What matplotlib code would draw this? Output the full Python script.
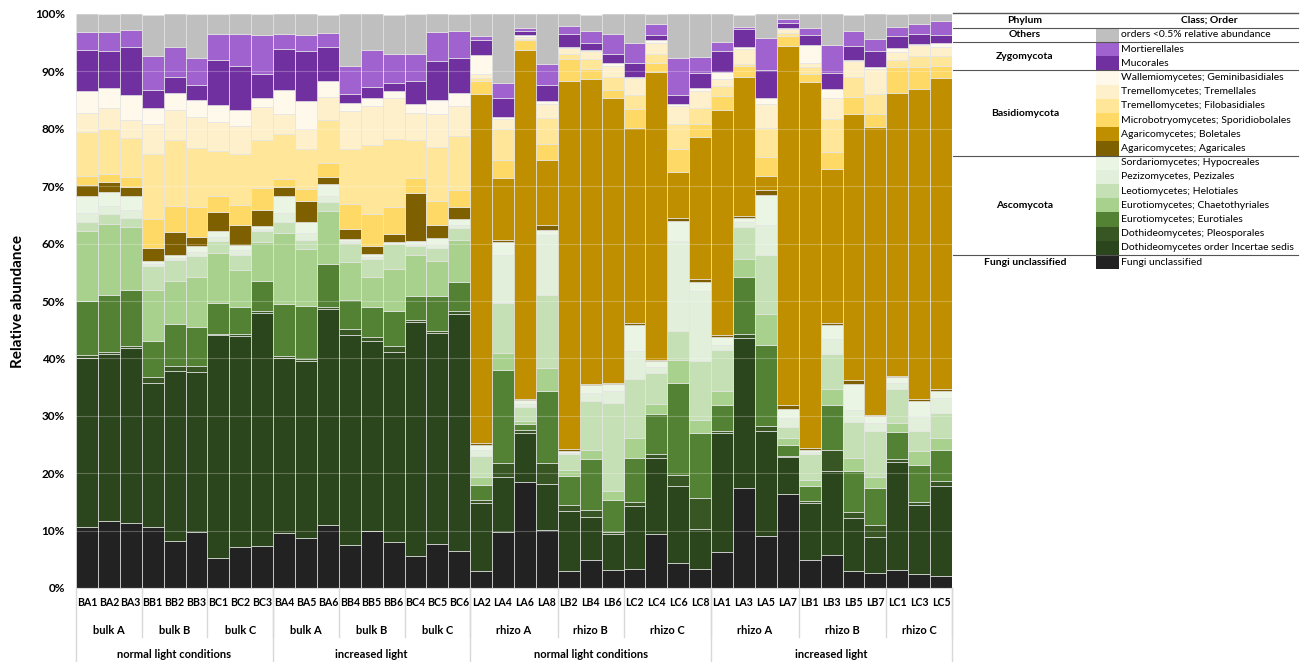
import matplotlib
matplotlib.use("Agg")
import matplotlib.pyplot as plt
import numpy as np
from matplotlib.lines import Line2D

plt.rcParams['font.family'] = ['Lato', 'DejaVu Sans']

# образцы (40 столбцов)
samples = ["BA1", "BA2", "BA3", "BB1", "BB2", "BB3", "BC1", "BC2", "BC3",
           "BA4", "BA5", "BA6", "BB4", "BB5", "BB6", "BC4", "BC5", "BC6",
           "LA2", "LA4", "LA6", "LA8", "LB2", "LB4", "LB6", "LC2", "LC4", "LC6", "LC8",
           "LA1", "LA3", "LA5", "LA7", "LB1", "LB3", "LB5", "LB7", "LC1", "LC3", "LC5"]
groups = ["bulk A", "bulk B", "bulk C", "bulk A", "bulk B", "bulk C",
          "rhizo A", "rhizo B", "rhizo C", "rhizo A", "rhizo B", "rhizo C"]
group_sizes = [3, 3, 3, 3, 3, 3, 4, 3, 4, 4, 4, 3]
conditions = ["normal light conditions", "increased light",
              "normal light conditions", "increased light"]
condition_sizes = [9, 9, 11, 11]

# относительная численность, % (снизу вверх)
unclassified = [10.7, 11.6, 11.3, 10.7, 8.2, 9.8, 5.2, 7.2, 7.4,
                9.5, 8.7, 11.0, 7.5, 9.9, 8.1, 5.6, 7.6, 6.5,
                3.0, 9.7, 18.4, 10.1, 2.9, 4.9, 3.1, 3.3, 9.4, 4.3, 3.3,
                6.2, 17.5, 9.0, 16.3, 4.9, 5.8, 3.0, 2.7, 3.1, 2.4, 2.1]
incertae = [29.4, 29.1, 30.5, 25.1, 29.6, 27.9, 38.8, 36.7, 40.5,
            30.5, 30.9, 37.6, 36.6, 33.2, 33.1, 40.7, 36.8, 41.3,
            11.8, 9.6, 8.6, 8.0, 10.6, 7.5, 6.3, 10.9, 13.2, 13.5, 7.0,
            20.8, 26.1, 18.3, 6.5, 9.9, 14.5, 9.2, 6.1, 18.9, 12.0, 15.6]
pleosporales = [0.5, 0.4, 0.3, 1.0, 0.9, 0.9, 0.3, 0.3, 0.4,
                0.4, 0.3, 0.3, 1.0, 0.7, 1.0, 0.4, 0.4, 0.4,
                0.6, 2.4, 0.6, 3.6, 0.9, 1.2, 0.4, 0.8, 0.7, 1.9, 5.4,
                0.3, 0.6, 0.9, 0.2, 0.4, 3.8, 1.0, 2.2, 0.4, 0.6, 1.0]
eurotiales = [9.4, 10.0, 9.8, 6.3, 7.3, 6.9, 5.4, 4.8, 5.2,
              9.1, 9.3, 7.6, 5.0, 5.1, 6.0, 4.2, 6.0, 5.1,
              2.6, 16.2, 0.9, 12.7, 5.1, 8.9, 5.5, 7.7, 7.1, 16.1, 11.3,
              4.5, 9.9, 14.2, 2.0, 2.5, 7.7, 7.1, 6.4, 4.8, 6.5, 5.4]
chaetothyriales = [12.2, 12.4, 11.0, 8.8, 7.4, 8.6, 8.6, 6.4, 6.7,
                   12.4, 9.8, 9.1, 6.7, 5.3, 7.3, 7.1, 6.2, 7.4,
                   1.3, 3.1, 0.6, 4.0, 1.0, 1.6, 1.6, 3.5, 1.7, 4.0, 2.3,
                   2.6, 3.2, 5.4, 1.2, 1.2, 2.9, 2.3, 1.9, 1.5, 2.4, 2.0]
helotiales = [1.6, 1.7, 1.6, 4.2, 3.8, 3.8, 2.2, 2.7, 2.0,
              1.9, 1.7, 1.7, 3.3, 3.2, 4.5, 1.6, 2.3, 2.0,
              3.7, 8.7, 2.5, 12.7, 2.8, 8.4, 15.3, 10.2, 5.4, 5.0, 10.3,
              7.1, 5.6, 10.2, 1.9, 4.5, 6.0, 6.4, 8.1, 6.0, 3.4, 4.4]
pezizales = [1.5, 1.3, 1.3, 0.4, 0.3, 0.6, 0.7, 0.7, 0.4,
             1.5, 1.2, 1.0, 0.3, 0.3, 0.0, 0.4, 0.7, 0.6,
             1.0, 8.3, 0.5, 10.4, 0.3, 1.5, 2.1, 4.9, 1.0, 15.7, 12.1,
             0.9, 0.9, 5.3, 1.5, 0.3, 2.6, 2.0, 1.3, 1.0, 2.6, 2.6]
hypocreales = [3.0, 2.5, 2.5, 0.5, 0.5, 1.0, 1.0, 0.9, 0.5,
               3.0, 1.8, 2.0, 0.4, 0.5, 0.2, 0.5, 1.0, 0.9,
               1.0, 2.2, 0.7, 0.9, 0.3, 1.3, 1.2, 4.5, 1.0, 3.5, 1.6,
               1.3, 0.7, 5.1, 1.5, 0.3, 2.6, 4.6, 1.3, 1.0, 2.7, 1.2]
agaricales = [1.9, 1.7, 1.6, 2.3, 4.0, 1.7, 3.3, 3.6, 2.7,
              1.5, 3.8, 1.3, 1.7, 1.3, 1.4, 8.4, 2.3, 2.2,
              0.3, 0.4, 0.2, 0.9, 0.3, 0.3, 0.3, 0.3, 0.2, 0.4, 0.5,
              0.3, 0.3, 0.9, 0.7, 0.4, 0.3, 0.7, 0.2, 0.3, 0.3, 0.3]
boletales = [0, 0, 0, 0, 0, 0, 0, 0, 0,
             0, 0, 0, 0, 0, 0, 0, 0, 0,
             60.8, 10.9, 60.8, 11.2, 64.2, 53.0, 49.5, 34.1, 50.2, 8.0, 24.7,
             39.2, 24.2, 2.4, 62.6, 63.8, 26.8, 46.3, 50.2, 49.2, 54.0, 54.3]
sporidiobolales = [1.6, 1.5, 1.7, 5.0, 4.6, 5.1, 2.8, 3.4, 3.9,
                   1.5, 2.0, 2.4, 4.4, 5.7, 4.8, 2.6, 4.1, 3.0,
                   2.2, 3.1, 1.6, 2.9, 3.8, 1.8, 1.5, 3.2, 1.5, 4.0, 2.4,
                   2.6, 2.0, 3.4, 1.7, 1.3, 2.9, 2.9, 2.2, 4.5, 3.8, 2.0]
filobasidiales = [7.6, 7.8, 6.8, 11.3, 11.4, 10.3, 7.9, 8.9, 8.3,
                  7.8, 7.0, 7.6, 9.5, 11.9, 11.9, 6.5, 9.4, 9.4,
                  0.6, 5.3, 0.3, 4.4, 0.9, 1.8, 2.2, 2.5, 1.6, 4.4, 2.7,
                  1.6, 0.3, 5.1, 0.6, 1.3, 5.8, 3.5, 3.5, 1.3, 1.9, 1.7]
tremellales = [3.3, 3.6, 3.2, 5.2, 5.2, 5.5, 4.9, 4.9, 5.8,
               3.5, 3.4, 3.9, 6.7, 6.8, 7.1, 4.8, 5.8, 5.1,
               0.6, 1.8, 0.3, 2.5, 0.9, 1.4, 1.9, 2.9, 2.0, 3.2, 2.9,
               1.2, 2.6, 4.2, 0.6, 0.7, 3.6, 2.8, 4.4, 1.3, 2.0, 1.7]
geminibasidiales = [3.8, 3.5, 4.3, 2.9, 3.0, 2.9, 3.1, 2.8, 1.5,
                    4.2, 4.9, 2.9, 1.4, 1.5, 1.2, 1.6, 2.5, 2.3,
                    3.4, 0.3, 0.3, 0.5, 0.3, 0.2, 0.6, 0.3, 0.4, 0.3, 0.6,
                    1.3, 0.3, 1.0, 0.3, 3.1, 1.7, 0.1, 0.3, 0.7, 0.2, 0.7]
mucorales = [7.3, 6.5, 8.3, 3.0, 2.8, 2.6, 7.7, 7.7, 4.2,
             7.1, 8.8, 5.9, 1.5, 1.9, 1.4, 4.0, 6.7, 6.1,
             2.6, 3.3, 0.8, 2.9, 2.3, 1.2, 1.6, 2.3, 1.0, 1.6, 2.7,
             3.7, 3.1, 4.8, 0.9, 1.7, 2.7, 2.5, 2.7, 2.2, 1.7, 1.3]
mortierellales = [3.0, 3.2, 3.0, 5.9, 5.3, 4.8, 4.6, 5.6, 6.8,
                  2.7, 2.8, 2.4, 5.0, 6.5, 5.1, 4.6, 5.1, 4.8,
                  0.6, 2.7, 0.4, 3.6, 1.3, 2.0, 3.5, 3.6, 1.9, 6.4, 2.7,
                  1.6, 0.5, 5.6, 0.6, 1.2, 4.9, 2.6, 2.1, 1.5, 1.7, 2.5]
others = [3.3, 3.2, 3.0, 7.3, 5.8, 7.6, 3.5, 3.5, 3.7,
          3.5, 3.8, 3.2, 9.1, 6.3, 6.8, 7.0, 3.2, 2.9,
          4.0, 12.2, 2.6, 8.8, 2.3, 2.9, 3.5, 5.1, 1.7, 7.8, 7.6,
          5.0, 2.1, 4.4, 1.0, 2.6, 5.5, 2.9, 4.6, 2.3, 1.9, 1.5]

# порядок слоёв снизу вверх
stack = [unclassified, incertae, pleosporales, eurotiales, chaetothyriales,
         helotiales, pezizales, hypocreales, agaricales, boletales,
         sporidiobolales, filobasidiales, tremellales, geminibasidiales,
         mucorales, mortierellales, others]
colors = ["#222222", "#2b451c", "#375623", "#548235", "#a9d18e",
          "#c5e0b4", "#e2efda", "#ebf5e4", "#7f6000", "#bf8f00",
          "#ffd966", "#ffe699", "#fff0cc", "#fff9ec",
          "#7030a0", "#a062cf", "#bfbfbf"]
class_names = ["Fungi unclassified", "Dothideomycetes order Incertae sedis",
               "Dothideomycetes; Pleosporales", "Eurotiomycetes; Eurotiales",
               "Eurotiomycetes; Chaetothyriales", "Leotiomycetes; Helotiales",
               "Pezizomycetes, Pezizales", "Sordariomycetes; Hypocreales",
               "Agaricomycetes; Agaricales", "Agaricomycetes; Boletales",
               "Microbotryomycetes; Sporidiobolales", "Tremellomycetes; Filobasidiales",
               "Tremellomycetes; Tremellales", "Wallemiomycetes; Geminibasidiales",
               "Mucorales", "Mortierellales", "orders <0.5% relative abundance"]
phyla = ["Fungi unclassified", "Ascomycota", "Basidiomycota", "Zygomycota", "Others"]
phylum_sizes = [1, 7, 6, 2, 1]

W, H = 1306, 662
fig = plt.figure(figsize=(W / 100, H / 100), dpi=100)
ax = fig.add_axes([76 / W, 1 - 588 / H, 876 / W, 574 / H])

x = np.arange(len(samples))
bottom = np.zeros(len(samples))
for vals, col in zip(stack, colors):
    vals = np.array(vals)
    ax.bar(x, vals, bottom=bottom, width=1.0, color=col,
           edgecolor="#e4e4e4", linewidth=0.5)
    bottom += vals

ax.set_xlim(-0.5, len(samples) - 0.5)
ax.set_ylim(0, 100)
ax.set_yticks(np.arange(0, 101, 10))
ax.set_yticklabels([f"{v}%" for v in range(0, 101, 10)], fontsize=8.5, fontweight="bold")
ax.tick_params(axis="y", length=0, pad=8)
ax.set_xticks([])
for s in ["top", "right", "left"]:
    ax.spines[s].set_visible(False)
ax.spines["bottom"].set_color("#d9d9d9")
ax.yaxis.grid(True, color="white", alpha=0.25, linewidth=0.8)
ax.set_axisbelow(False)

# подпись оси Y
fig.text(18 / W, 1 - 301 / H, "Relative abundance", rotation=90, ha="center",
         va="center", fontsize=11, fontweight="bold")

# многоуровневые подписи оси X
trans = ax.get_xaxis_transform()
def yax(py):
    return (588 - py) / 574

for i, name in enumerate(samples):
    ax.text(i, yax(603), name, transform=trans, ha="center", va="center",
            fontsize=7.6, fontweight="bold")

pos = 0
for name, n in zip(groups, group_sizes):
    ax.text(pos + n / 2 - 0.5, yax(631), name, transform=trans, ha="center",
            va="center", fontsize=8, fontweight="bold")
    pos += n
    ax.add_line(Line2D([pos - 0.5, pos - 0.5], [0, yax(637)], transform=trans,
                       color="#d9d9d9", lw=1, clip_on=False))

pos = 0
ax.add_line(Line2D([-0.5, -0.5], [0, yax(662)], transform=trans,
                   color="#d9d9d9", lw=1, clip_on=False))
for name, n in zip(conditions, condition_sizes):
    ax.text(pos + n / 2 - 0.5, yax(654), name, transform=trans, ha="center",
            va="center", fontsize=8, fontweight="bold")
    pos += n
    ax.add_line(Line2D([pos - 0.5, pos - 0.5], [0, yax(662)], transform=trans,
                       color="#d9d9d9", lw=1, clip_on=False))

# таблица-легенда справа
lg = fig.add_axes([0, 0, 1, 1], facecolor="none")
lg.set_xlim(0, W)
lg.set_ylim(H, 0)
lg.axis("off")

row_h = 14.2
top = 27.8
lg.plot([953, 1298], [13.3, 13.3], color="#555555", lw=1)
lg.text(1025, 20.5, "Phylum", ha="center", va="center", fontsize=7.5, fontweight="bold")
lg.text(1209, 20.5, "Class; Order", ha="center", va="center", fontsize=7.5, fontweight="bold")
lg.plot([953, 1298], [top, top], color="#555555", lw=0.8)

# строки в порядке легенды (сверху вниз)
n_rows = len(class_names)
for r in range(n_rows):
    k = n_rows - 1 - r
    y0 = top + r * row_h
    lg.add_patch(plt.Rectangle((1096, y0), 22.5, row_h, facecolor=colors[k],
                               edgecolor="none"))
    lg.text(1121, y0 + row_h / 2, class_names[k], ha="left", va="center", fontsize=7.5)

r = 0
for name, n in zip(phyla[::-1], phylum_sizes[::-1]):
    yc = top + (r + n / 2) * row_h
    lg.text(1025, yc, name, ha="center", va="center", fontsize=7.5, fontweight="bold")
    r += n
    if r < n_rows:
        lg.plot([953, 1298], [top + r * row_h, top + r * row_h], color="#555555", lw=0.8)

fig.savefig("out.png", dpi=100)
